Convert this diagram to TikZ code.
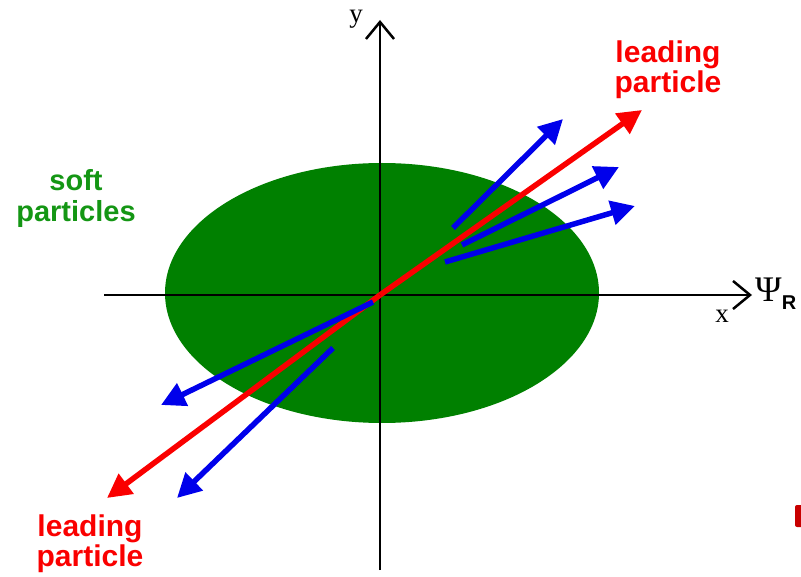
\documentclass[tikz,border=0pt]{standalone}
\usepackage{fontspec}
\setmainfont{Liberation Serif}
\setsansfont{Liberation Sans}
\usepackage{tikz}
\usetikzlibrary{arrows.meta, positioning, calc}
\definecolor{softgreen}{RGB}{0,128,0}
\definecolor{labelgreen}{RGB}{20,150,20}
\definecolor{leadred}{RGB}{250,0,0}
\definecolor{jetblue}{RGB}{0,0,235}
\tikzset{
  axis/.style={line width=2.5pt, -{Straight Barb[length=17pt,width=28pt,line width=2.5pt]}},
  leadarrow/.style={line width=5.5pt, color=leadred, -{Triangle[length=24pt,width=24pt]}},
  jetarrow/.style={line width=5.5pt, color=jetblue, -{Triangle[length=24pt,width=24pt]}},
  softlabel/.style={font=\sffamily\bfseries\fontsize{29}{31}\selectfont, color=labelgreen, align=center},
  leadlabel/.style={font=\sffamily\bfseries\fontsize{30}{30}\selectfont, color=leadred, align=center},
  axlabel/.style={font=\fontsize{27}{30}\selectfont}
}
\begin{document}
\begin{tikzpicture}[x=1pt, y=-1pt]
  \useasboundingbox (0,0) rectangle (801,577);
  \clip (0,0) rectangle (801,577);
  % soft particle cloud
  \fill[softgreen] (382,293) ellipse [x radius=217, y radius=130];
  % axes
  \coordinate (O) at (380,295);
  \coordinate (xL) at (104,295);
  \coordinate (xR) at (752,295);
  \coordinate (yB) at (380,570);
  \coordinate (yT) at (380,20);
  \draw[axis] (xL) -- (xR);
  \draw[axis] (yB) -- (yT);
  \node[axlabel] (ylab) at (356,19) {y};
  \node[axlabel] (xlab) at (722,316) {x};
  \node[font=\fontsize{36}{36}\selectfont, anchor=west, inner sep=0pt] (psi) at (755,294)
    {Ψ\raisebox{-0.22em}{\sffamily\bfseries\fontsize{20}{20}\selectfont R}};
  % leading particles
  \coordinate (lead1) at (642,110);
  \coordinate (lead2) at (107,498);
  \draw[leadarrow] (O) -- (lead1);
  \draw[leadarrow] (O) -- (lead2);
  % jet particles, near side
  \coordinate (j1s) at (453,228); \coordinate (j1e) at (563,119);
  \coordinate (j2s) at (462,245); \coordinate (j2e) at (619,167);
  \coordinate (j3s) at (445,262); \coordinate (j3e) at (635,206);
  \draw[jetarrow] (j1s) -- (j1e);
  \draw[jetarrow] (j2s) -- (j2e);
  \draw[jetarrow] (j3s) -- (j3e);
  % jet particles, away side
  \coordinate (j4s) at (373,302); \coordinate (j4e) at (161,405);
  \coordinate (j5s) at (333,348); \coordinate (j5e) at (177,498);
  \draw[jetarrow] (j4s) -- (j4e);
  \draw[jetarrow] (j5s) -- (j5e);
  % labels
  \node[softlabel] (soft) at (76,199) {soft\\particles};
  \node[leadlabel] (leadtop) at (668,70) {leading\\particle};
  \node[leadlabel] (leadbot) at (90,544) {leading\\particle};
  % edge mark
  \fill[leadred!80!black, rounded corners=2pt] (795,505) rectangle (808,527);
\end{tikzpicture}
\end{document}
